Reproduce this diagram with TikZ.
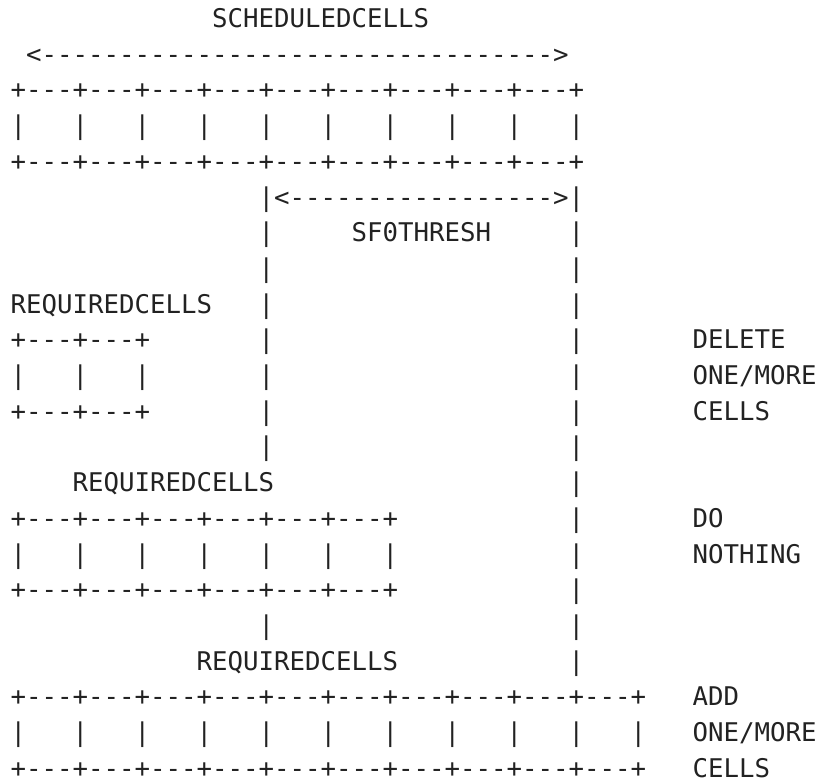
\documentclass[tikz,border=0pt]{standalone}
\usepackage{fontspec}
\setmonofont{DejaVu Sans Mono}
\ExplSyntaxOn
\cs_new:Npn \myrep #1#2 { \prg_replicate:nn {#1} {#2} }
\ExplSyntaxOff
\definecolor{ink}{RGB}{34,34,34}
\tikzset{txt/.style={anchor=base west, inner sep=0pt, outer sep=0pt,
  font=\ttfamily\fontsize{19.31pt}{24pt}\selectfont, text=ink}}
\begin{document}
\begin{tikzpicture}[x=0.75pt,y=-0.75pt]
\useasboundingbox (0,0) rectangle (822,780);
\begin{scope}[shift={(10.55,27.6)}, x=11.625pt, y=-26.775pt]
  % scheduled cells
  \node[txt] (title) at (13,0) {SCHEDULEDCELLS};
  \node[txt] (schedarrow) at (1,1) {<\myrep{33}{-}>};
  \node[txt] (toptop) at (0,2) {\myrep{9}{+---}+};
  \node[txt] (topcells) at (0,3) {\myrep{9}{|~~~}|};
  \node[txt] (topbot) at (0,4) {\myrep{9}{+---}+};
  % threshold
  \node[txt] (thresharrow) at (16,5) {|<\myrep{17}{-}>|};
  \node[txt] (thresh) at (22,6) {SF0THRESH};
  \foreach \r in {6,...,12,17} \node[txt] (lb\r) at (16,\r) {|};
  \foreach \r in {6,...,18} \node[txt] (rb\r) at (36,\r) {|};
  % small required cells
  \node[txt] (req1) at (0,8) {REQUIREDCELLS};
  \node[txt] (smalltop) at (0,9) {\myrep{2}{+---}+};
  \node[txt] (smallcells) at (0,10) {\myrep{2}{|~~~}|};
  \node[txt] (smallbot) at (0,11) {\myrep{2}{+---}+};
  \node[txt] (del1) at (44,9) {DELETE};
  \node[txt] (del2) at (44,10) {ONE/MORE};
  \node[txt] (del3) at (44,11) {CELLS};
  % medium required cells
  \node[txt] (req2) at (4,13) {REQUIREDCELLS};
  \node[txt] (midtop) at (0,14) {\myrep{6}{+---}+};
  \node[txt] (midcells) at (0,15) {\myrep{6}{|~~~}|};
  \node[txt] (midbot) at (0,16) {\myrep{6}{+---}+};
  \node[txt] (do1) at (44,14) {DO};
  \node[txt] (do2) at (44,15) {NOTHING};
  % large required cells
  \node[txt] (req3) at (12,18) {REQUIREDCELLS};
  \node[txt] (bigtop) at (0,19) {\myrep{10}{+---}+};
  \node[txt] (bigcells) at (0,20) {\myrep{10}{|~~~}|};
  \node[txt] (bigbot) at (0,21) {\myrep{10}{+---}+};
  \node[txt] (add1) at (44,19) {ADD};
  \node[txt] (add2) at (44,20) {ONE/MORE};
  \node[txt] (add3) at (44,21) {CELLS};
\end{scope}
\end{tikzpicture}
\end{document}
